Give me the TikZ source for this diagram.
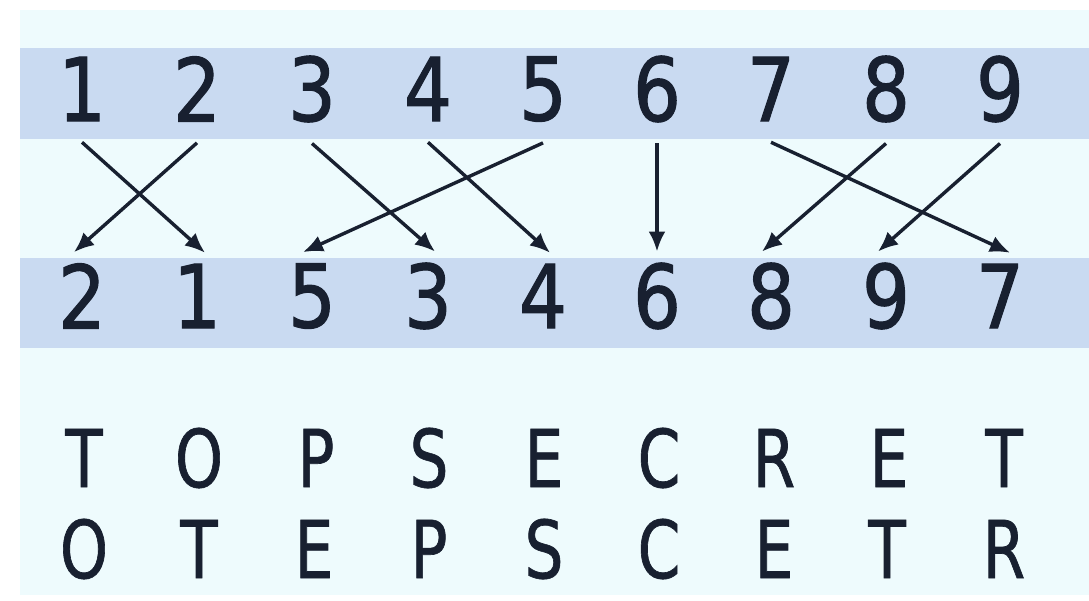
\documentclass[tikz,border=0pt]{standalone}
\usepackage{fontspec}
\setmainfont{DejaVu Sans Condensed}
\newfontfamily\digfont[FakeBold=1.2,FakeStretch=0.95]{DejaVu Sans Condensed}
\newfontfamily\letfont[FakeBold=0.8,FakeStretch=0.85]{DejaVu Sans Condensed}
\usetikzlibrary{arrows.meta}
\definecolor{bgc}{RGB}{238,251,253}
\definecolor{band}{RGB}{201,218,241}
\definecolor{ink}{RGB}{24,32,48}
\begin{document}
\begin{tikzpicture}[x=1pt,y=-1pt,
  dig/.style={inner xsep=0pt,text=ink,font=\digfont\fontsize{88}{90}\selectfont},
  topdig/.style={dig,inner ysep=21pt},
  botdig/.style={dig,inner ysep=11pt},
  let/.style={inner sep=0pt,text=ink,font=\letfont\fontsize{80}{82}\selectfont},
  arr/.style={draw=ink,line width=3.4pt,-{Latex[length=20pt,width=17pt]}}]
\useasboundingbox (0,0) rectangle (1089,600);
\fill[white] (0,0) rectangle (1089,600);
\fill[bgc] (20,10) rectangle (1089,595);
\fill[band] (20,48) rectangle (1089,139);
\fill[band] (20,258) rectangle (1089,348);
% top row
\foreach \d/\x in {1/82,2/197,3/312,4/428,5/543,6/657,7/771,8/886,9/1000}
  \node[topdig] (t\d) at (\x,89) {\d};
% bottom row
\foreach \d/\x in {2/82,1/197,5/312,3/428,4/543,6/657,8/771,9/886,7/1000}
  \node[botdig] (b\d) at (\x,296) {\d};
% arrows
\draw[arr] (t1.south) -- ([xshift=8pt]b1.north);
\draw[arr] (t2.south) -- ([xshift=-8pt]b2.north);
\draw[arr] (t3.south) -- ([xshift=7pt]b3.north);
\draw[arr] (t4.south) -- ([xshift=7pt]b4.north);
\draw[arr] (t5.south) -- ([xshift=-9pt]b5.north);
\draw[arr] (t6.south) -- (b6.north);
\draw[arr] (t7.south) -- ([xshift=10pt]b7.north);
\draw[arr] (t8.south) -- ([xshift=-9pt]b8.north);
\draw[arr] (t9.south) -- ([xshift=-8pt]b9.north);
% letters
\foreach \l/\x [count=\i] in {T/84,O/199,P/316,S/429,E/544,C/659,R/774,E/889,T/1004}
  \node[let] (r\i) at (\x,458) {\l};
\foreach \l/\x [count=\i] in {O/84,T/199,E/314,P/429,S/544,C/659,E/774,T/887,R/1004}
  \node[let] (s\i) at (\x,549) {\l};
\end{tikzpicture}
\end{document}
